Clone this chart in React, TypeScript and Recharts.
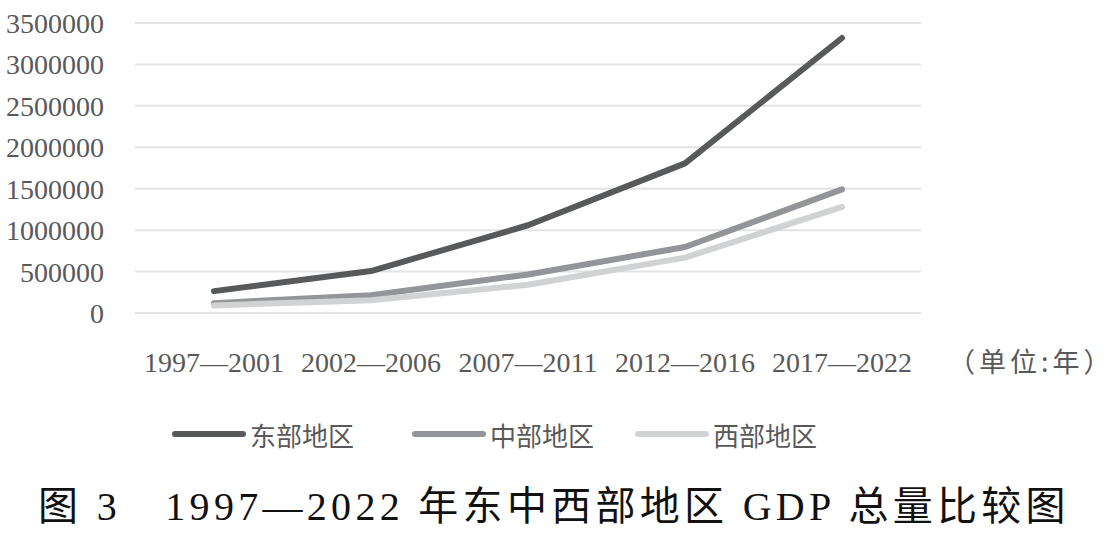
import React from 'react';
import { LineChart, Line, XAxis, YAxis, CartesianGrid } from 'recharts';

const periods = ['1997—2001', '2002—2006', '2007—2011', '2012—2016', '2017—2022'];
const east = [264000, 506000, 1059000, 1806000, 3319000];
const central = [119000, 215000, 465000, 796000, 1492000];
const west = [91000, 155000, 340000, 668000, 1281000];
const yTicks = [0, 500000, 1000000, 1500000, 2000000, 2500000, 3000000, 3500000];

const seriesInfo = [
  { key: 'east', name: '东部地区', color: '#58595b' },
  { key: 'central', name: '中部地区', color: '#939598' },
  { key: 'west', name: '西部地区', color: '#d1d2d4' },
];

const data = periods.map((p, i) => ({
  period: p,
  east: east[i],
  central: central[i],
  west: west[i],
}));

const serif = '"Liberation Serif", "DejaVu Serif", serif';
const cjk = '"Liberation Serif", "Noto Sans CJK SC", serif';

const App: React.FC = () => {
  return (
    <div style={{ position: 'absolute', left: 0, top: 0, width: 1120, height: 535, background: '#fff' }}>
      <LineChart
        width={1120}
        height={470}
        data={data}
        margin={{ top: 23, right: 199, left: 0, bottom: 97 }}
      >
        <CartesianGrid vertical={false} stroke="#e3e3e3" strokeWidth={2} />
        <XAxis
          dataKey="period"
          axisLine={false}
          tickLine={false}
          tickSize={0}
          tickMargin={39}
          height={60}
          interval={0}
          padding={{ left: 79, right: 79 }}
          tick={{ fill: '#595959', fontSize: 28, fontFamily: serif }}
        />
        <YAxis
          width={135}
          domain={[0, 3500000]}
          ticks={yTicks}
          axisLine={false}
          tickLine={false}
          tickSize={0}
          tickMargin={31}
          interval={0}
          tick={{ fill: '#595959', fontSize: 28, fontFamily: serif }}
        />
        {seriesInfo.map((s) => (
          <Line
            key={s.key}
            type="linear"
            dataKey={s.key}
            name={s.name}
            stroke={s.color}
            strokeWidth={6}
            strokeLinecap="round"
            strokeLinejoin="round"
            dot={false}
            activeDot={false}
            isAnimationActive={false}
          />
        ))}
      </LineChart>

      <div
        style={{
          position: 'absolute',
          left: 948,
          top: 341,
          fontSize: 27,
          letterSpacing: 4,
          color: '#595959',
          fontFamily: '"Noto Sans CJK SC", serif',
          whiteSpace: 'nowrap',
        }}
      >
        （单位:年）
      </div>

      <div style={{ position: 'absolute', left: 0, top: 414, width: 1120, height: 40 }}>
        {seriesInfo.map((s, i) => {
          const lefts = [172, 412, 635];
          return (
            <div
              key={s.key}
              style={{ position: 'absolute', left: lefts[i], top: 0, display: 'flex', alignItems: 'center', height: 40 }}
            >
              <svg width={74} height={10} style={{ marginRight: 4 }}>
                <line x1={3} y1={5} x2={71} y2={5} stroke={s.color} strokeWidth={6} strokeLinecap="round" />
              </svg>
              <span style={{ fontSize: 26, color: '#595959', fontFamily: cjk }}>{s.name}</span>
            </div>
          );
        })}
      </div>

      <div
        style={{
          position: 'absolute',
          left: -6,
          top: 474,
          width: 1120,
          textAlign: 'center',
          fontSize: 40,
          fontFamily: cjk,
          color: '#111',
          letterSpacing: 4.3,
          whiteSpace: 'nowrap',
        }}
      >
        图 3　1997—2022 年东中西部地区 GDP 总量比较图
      </div>
    </div>
  );
};

export default App;
